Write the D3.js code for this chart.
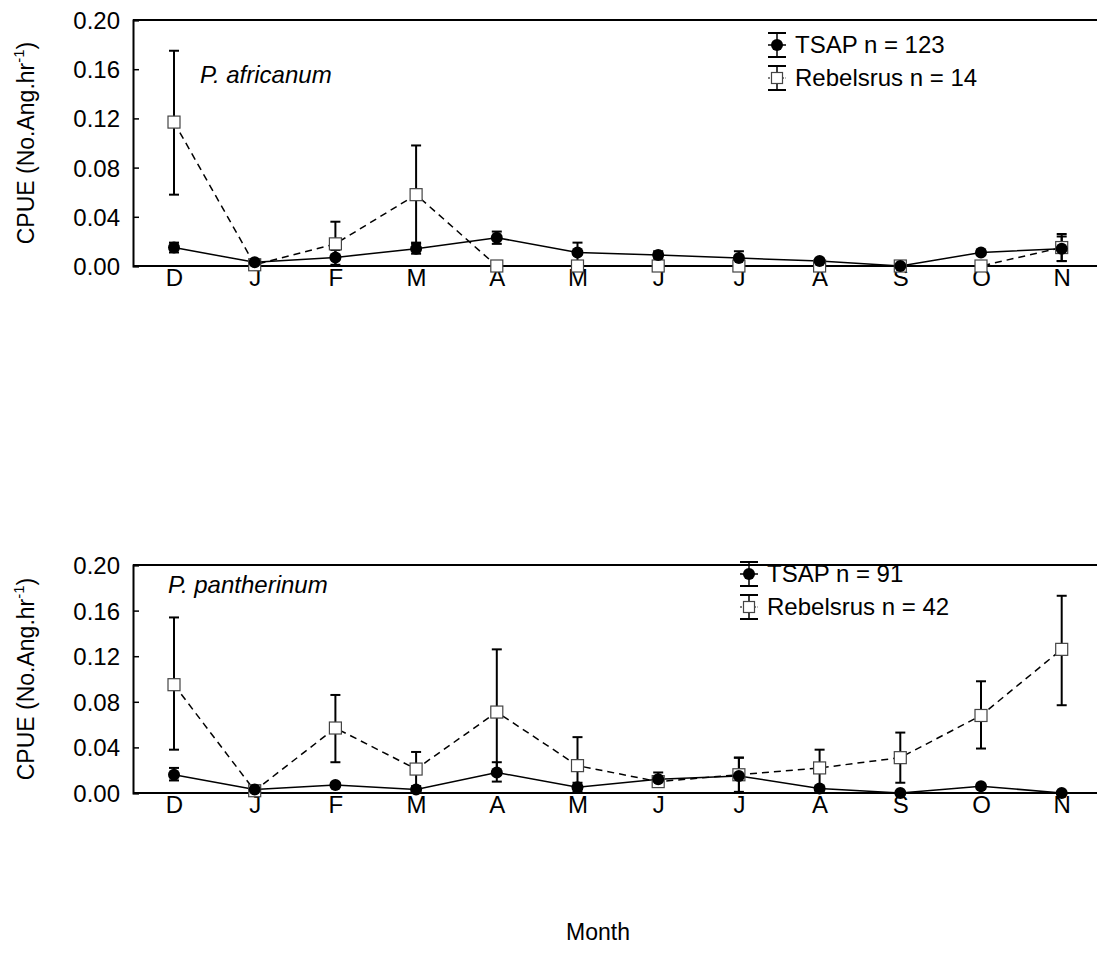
<!DOCTYPE html>
<html><head><meta charset="utf-8">
<script src="https://cdn.jsdelivr.net/npm/d3@7"></script>
<style>body{margin:0;background:#fff}svg{display:block}text{font-family:"Liberation Sans",Arial,sans-serif}</style>
</head><body>
<svg id="c" width="1097" height="970"></svg>
<script>
const months = ["D","J","F","M","A","M","J","J","A","S","O","N"];
const yTicks = [0,0.04,0.08,0.12,0.16,0.20];

// Panel 1: P. africanum
const afrTsap    = [0.015,0.003,0.007,0.014,0.023,0.011,0.009,0.0065,0.004,0.0,0.011,0.014];
const afrTsapLo  = [0.011,0.001,0.001,0.010,0.018,0.003,0.006,0.001,0.002,0.0,0.009,0.004];
const afrTsapHi  = [0.019,0.005,0.013,0.018,0.028,0.019,0.012,0.012,0.006,0.0,0.013,0.024];
const afrRebel   = [0.117,0.001,0.018,0.058,0.0,0.0,0.0,0.0,0.0,0.0,0.0,0.015];
const afrRebelLo = [0.058,0.0,0.0,0.019,0.0,0.0,0.0,0.0,0.0,0.0,0.0,0.004];
const afrRebelHi = [0.175,0.002,0.036,0.098,0.0,0.0,0.0,0.0,0.0,0.0,0.0,0.026];

// Panel 2: P. pantherinum
const panTsap    = [0.016,0.003,0.007,0.003,0.018,0.005,0.012,0.015,0.004,0.0,0.006,0.0];
const panTsapLo  = [0.011,0.002,0.005,0.002,0.010,0.001,0.008,0.0,0.002,0.0,0.004,0.0];
const panTsapHi  = [0.022,0.004,0.009,0.004,0.027,0.009,0.018,0.031,0.006,0.0,0.008,0.0];
const panRebel   = [0.095,0.002,0.057,0.021,0.071,0.024,0.010,0.016,0.022,0.031,0.068,0.126];
const panRebelLo = [0.038,0.001,0.027,0.006,0.016,0.0,0.006,0.001,0.005,0.009,0.039,0.077];
const panRebelHi = [0.154,0.003,0.086,0.036,0.126,0.049,0.014,0.031,0.038,0.053,0.098,0.173];

const svg = d3.select("#c");
const TICKF = 24, FONT = 24, TITLEF = 23;

function panel(cfg){
  const g = svg.append("g");
  const x = d3.scalePoint().domain(d3.range(months.length)).range([cfg.x0+41, cfg.x0+41+80.7*11]);
  const y = d3.scaleLinear().domain([0,0.2]).range([cfg.bottom, cfg.top]);
  g.append("line").attr("x1",cfg.x0).attr("x2",1100).attr("y1",cfg.top).attr("y2",cfg.top).attr("stroke","#000").attr("stroke-width",2);
  const ya = g.append("g").attr("transform",`translate(${cfg.x0},0)`)
    .call(d3.axisRight(y).tickValues(yTicks).tickSize(6).tickFormat(d3.format(".2f")));
  ya.select(".domain").attr("stroke-width",2);
  ya.selectAll(".tick line").attr("stroke-width",1.5);
  ya.selectAll("text").attr("x",-13).attr("text-anchor","end").attr("font-size",TICKF).attr("fill","#000").attr("dy","0.35em");
  const xa = g.append("g").attr("transform",`translate(0,${cfg.bottom})`)
    .call(d3.axisBottom(x).tickSize(0).tickFormat(i=>months[i]));
  xa.select(".domain").attr("d",`M${cfg.x0},0H1100`).attr("stroke-width",2);
  xa.selectAll("text").attr("font-size",TICKF).attr("fill","#000").attr("dy","0.71em").attr("y",3);
  const t = g.append("text").attr("transform",`translate(34,${(cfg.top+cfg.bottom)/2}) rotate(-90)`)
    .attr("text-anchor","middle").attr("font-size",TITLEF);
  t.append("tspan").text("CPUE (No.Ang.hr");
  t.append("tspan").attr("dy",-10).attr("font-size",15).text("-1");
  t.append("tspan").attr("dy",10).text(")");
  g.append("text").attr("x",cfg.spX).attr("y",cfg.spY).attr("font-size",FONT).attr("font-style","italic").text(cfg.species);

  const idx = d3.range(months.length);
  function errbars(v,lo,hi){
    idx.forEach(i=>{
      if(hi[i]-lo[i] < 0.0005) return;
      g.append("line").attr("x1",x(i)).attr("x2",x(i)).attr("y1",y(lo[i])).attr("y2",y(hi[i])).attr("stroke","#000").attr("stroke-width",2);
      [lo[i],hi[i]].forEach(e=>g.append("line").attr("x1",x(i)-5).attr("x2",x(i)+5).attr("y1",y(e)).attr("y2",y(e)).attr("stroke","#000").attr("stroke-width",2));
    });
  }
  errbars(cfg.rebel,cfg.rebelLo,cfg.rebelHi);
  errbars(cfg.tsap,cfg.tsapLo,cfg.tsapHi);
  const line = d3.line().x((d,i)=>x(i)).y(d=>y(d));
  g.append("path").datum(cfg.rebel).attr("d",line).attr("fill","none").attr("stroke","#000").attr("stroke-width",1.5).attr("stroke-dasharray","7,5");
  g.append("path").datum(cfg.tsap).attr("d",line).attr("fill","none").attr("stroke","#000").attr("stroke-width",1.5);
  g.selectAll(null).data(cfg.rebel).enter().append("rect")
    .attr("x",(d,i)=>x(i)-6).attr("y",d=>y(d)-6).attr("width",12).attr("height",12)
    .attr("fill","#fff").attr("stroke","#444").attr("stroke-width",1.2);
  g.selectAll(null).data(cfg.tsap).enter().append("circle")
    .attr("cx",(d,i)=>x(i)).attr("cy",d=>y(d)).attr("r",6).attr("fill","#000");

  const lx = cfg.lgX, entries = [
    {label:cfg.l1, y:cfg.lgY, type:"c"},
    {label:cfg.l2, y:cfg.lgY+33, type:"s"}];
  entries.forEach(e=>{
    const lg = g.append("g");
    lg.append("line").attr("x1",lx).attr("x2",lx).attr("y1",e.y-12).attr("y2",e.y+12).attr("stroke","#000").attr("stroke-width",1.5);
    [e.y-12,e.y+12].forEach(yy=>lg.append("line").attr("x1",lx-9).attr("x2",lx+9).attr("y1",yy).attr("y2",yy).attr("stroke","#000").attr("stroke-width",2));
    if(e.type==="c"){
      lg.append("line").attr("x1",lx-9).attr("x2",lx+9).attr("y1",e.y).attr("y2",e.y).attr("stroke","#000").attr("stroke-width",1.5);
      lg.append("circle").attr("cx",lx).attr("cy",e.y).attr("r",6).attr("fill","#000");
    } else {
      lg.append("line").attr("x1",lx-9).attr("x2",lx+9).attr("y1",e.y).attr("y2",e.y).attr("stroke","#000").attr("stroke-width",1.2).attr("stroke-dasharray","2,1.5");
      lg.append("rect").attr("x",lx-5.5).attr("y",e.y-5.5).attr("width",11).attr("height",11).attr("fill","#fff").attr("stroke","#444").attr("stroke-width",1.2);
    }
    lg.append("text").attr("x",lx+18).attr("y",e.y).attr("dy","0.35em").attr("font-size",FONT).text(e.label);
  });
}

panel({x0:133, top:20, bottom:266, species:"P. africanum", spX:200, spY:83,
  tsap:afrTsap, tsapLo:afrTsapLo, tsapHi:afrTsapHi, rebel:afrRebel, rebelLo:afrRebelLo, rebelHi:afrRebelHi,
  lgX:777, lgY:45, l1:"TSAP n = 123", l2:"Rebelsrus n = 14"});
panel({x0:133, top:565, bottom:793, species:"P. pantherinum", spX:168, spY:593,
  tsap:panTsap, tsapLo:panTsapLo, tsapHi:panTsapHi, rebel:panRebel, rebelLo:panRebelLo, rebelHi:panRebelHi,
  lgX:749, lgY:574, l1:"TSAP n = 91", l2:"Rebelsrus n = 42"});

svg.append("text").attr("x",598).attr("y",940).attr("text-anchor","middle").attr("font-size",TITLEF).text("Month");
</script>
</body></html>
